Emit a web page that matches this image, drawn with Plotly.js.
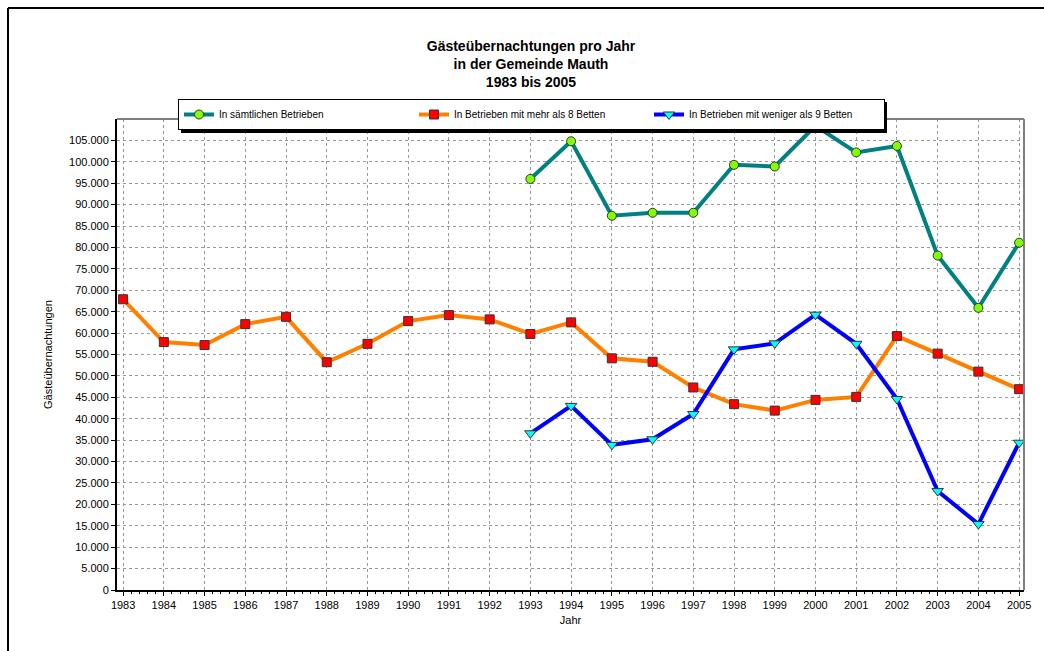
<!DOCTYPE html>
<html>
<head>
<meta charset="utf-8">
<script src="https://cdn.plot.ly/plotly-3.0.1.min.js"></script>
<style>
  body { margin: 0; background: #fff; }
  #myDiv { width: 1044px; height: 651px; }
</style>
</head>
<body>
<div id="myDiv"></div>
<script>
// Jahre 1983 bis 2005
var years = [1983, 1984, 1985, 1986, 1987, 1988, 1989, 1990, 1991, 1992, 1993, 1994,
             1995, 1996, 1997, 1998, 1999, 2000, 2001, 2002, 2003, 2004, 2005];
var yearsLate = [1993, 1994, 1995, 1996, 1997, 1998, 1999, 2000, 2001, 2002, 2003, 2004, 2005];

// In Betrieben mit mehr als 8 Betten
var mehrAls8 = [67900, 57900, 57200, 62100, 63800, 53200, 57500, 62800, 64200, 63200, 59800, 62500,
                54100, 53300, 47300, 43400, 41900, 44400, 45100, 59300, 55200, 51000, 46900];
// In sämtlichen Betrieben (ab 1993)
var saemtliche = [96000, 104800, 87400, 88100, 88100, 99300, 98900, 108400, 102200, 103700, 78100, 65900, 81100];
// In Betrieben mit weniger als 9 Betten (ab 1993)
var wenigerAls9 = [36600, 43000, 33900, 35200, 41100, 56200, 57600, 64300, 57500, 44600, 23100, 15400, 34400];

var yTicks = [0, 5000, 10000, 15000, 20000, 25000, 30000, 35000, 40000, 45000, 50000,
              55000, 60000, 65000, 70000, 75000, 80000, 85000, 90000, 95000, 100000, 105000];

var trace1 = {
  x: yearsLate, y: saemtliche,
  mode: 'lines+markers', type: 'scatter',
  name: 'In sämtlichen Betrieben',
  line: { color: '#008080', width: 4 },
  marker: { symbol: 'circle', size: 9, color: '#80ff00', line: { color: '#333', width: 1 } }
};
var trace2 = {
  x: years, y: mehrAls8,
  mode: 'lines+markers', type: 'scatter',
  name: 'In Betrieben mit mehr als 8 Betten',
  line: { color: '#ff8000', width: 4 },
  marker: { symbol: 'square', size: 9, color: '#ff0000', line: { color: '#333', width: 1 } }
};
var trace3 = {
  x: yearsLate, y: wenigerAls9,
  mode: 'lines+markers', type: 'scatter',
  name: 'In Betrieben mit weniger als 9 Betten',
  line: { color: '#0000ff', width: 4 },
  marker: { symbol: 'triangle-down', size: 10, color: '#00ffff', line: { color: '#333', width: 1 } }
};

var data = [trace1, trace2, trace3];

// plot area: x 117..1024, y 119..590
var L = 117, R = 1024, T = 119, B = 590;
function px(x) { return (x - L) / (R - L); }
function py(y) { return (B - y) / (B - T); }

var layout = {
  width: 1044, height: 651,
  margin: { l: L, r: 1044 - R, t: T, b: 651 - B },
  paper_bgcolor: '#fff', plot_bgcolor: '#fff',
  separators: ',.',
  font: { family: 'Liberation Sans, Arial, sans-serif', size: 11, color: '#000' },
  title: {
    text: 'Gästeübernachtungen pro Jahr<br>in der Gemeinde Mauth<br>1983 bis 2005',
    font: { size: 14, color: '#000', weight: 'bold' },
    x: 531 / 1044, xref: 'container', xanchor: 'center',
    y: 1 - 51 / 651, yref: 'container', yanchor: 'top'
  },
  showlegend: true,
  legend: {
    orientation: 'h',
    x: px(178), xanchor: 'left', y: py(99), yanchor: 'top',
    bgcolor: '#fff', bordercolor: '#000', borderwidth: 1,
    font: { size: 10 },
    entrywidth: 190, entrywidthmode: 'pixels',
    itemclick: false
  },
  xaxis: {
    range: [1982.85, 2005.12],
    tickvals: years, ticktext: years.map(String),
    ticks: 'outside', ticklen: 4, tickcolor: '#000',
    showline: true, linecolor: '#000', linewidth: 2,
    showgrid: true, gridcolor: '#999', griddash: '3px,3px', gridwidth: 1,
    zeroline: false,
    minor: { dtick: 0.2, ticks: 'outside', ticklen: 2, tickcolor: '#000', showgrid: false },
    title: { text: 'Jahr', font: { size: 11 }, standoff: 6 }
  },
  yaxis: {
    range: [0, 110000],
    tickvals: yTicks, tickformat: ',d',
    ticks: 'outside', ticklen: 4, tickcolor: '#000',
    showline: true, linecolor: '#000', linewidth: 2,
    showgrid: true, gridcolor: '#999', griddash: '3px,3px', gridwidth: 1,
    zeroline: false,
    title: { text: 'Gästeübernachtungen', font: { size: 11 }, standoff: 14 }
  },
  shapes: [
    // outer frame
    { type: 'line', xref: 'paper', yref: 'paper', x0: px(8), x1: px(1050), y0: py(8), y1: py(8),
      line: { color: '#000', width: 2 } },
    { type: 'line', xref: 'paper', yref: 'paper', x0: px(8), x1: px(8), y0: py(8), y1: py(660),
      line: { color: '#000', width: 2 } },
    // grey top / right border of plot area
    { type: 'line', xref: 'paper', yref: 'paper', x0: 0, x1: 1, y0: 1, y1: 1,
      line: { color: '#808080', width: 2 } },
    { type: 'line', xref: 'paper', yref: 'paper', x0: 1, x1: 1, y0: 0, y1: 1,
      line: { color: '#808080', width: 2 } },
    // legend shadow
    { type: 'rect', xref: 'paper', yref: 'paper', x0: px(181), x1: px(887), y0: py(102), y1: py(133),
      fillcolor: '#000', line: { width: 0 }, layer: 'above' }
  ]
};

Plotly.newPlot('myDiv', data, layout, { staticPlot: true });
</script>
</body>
</html>
